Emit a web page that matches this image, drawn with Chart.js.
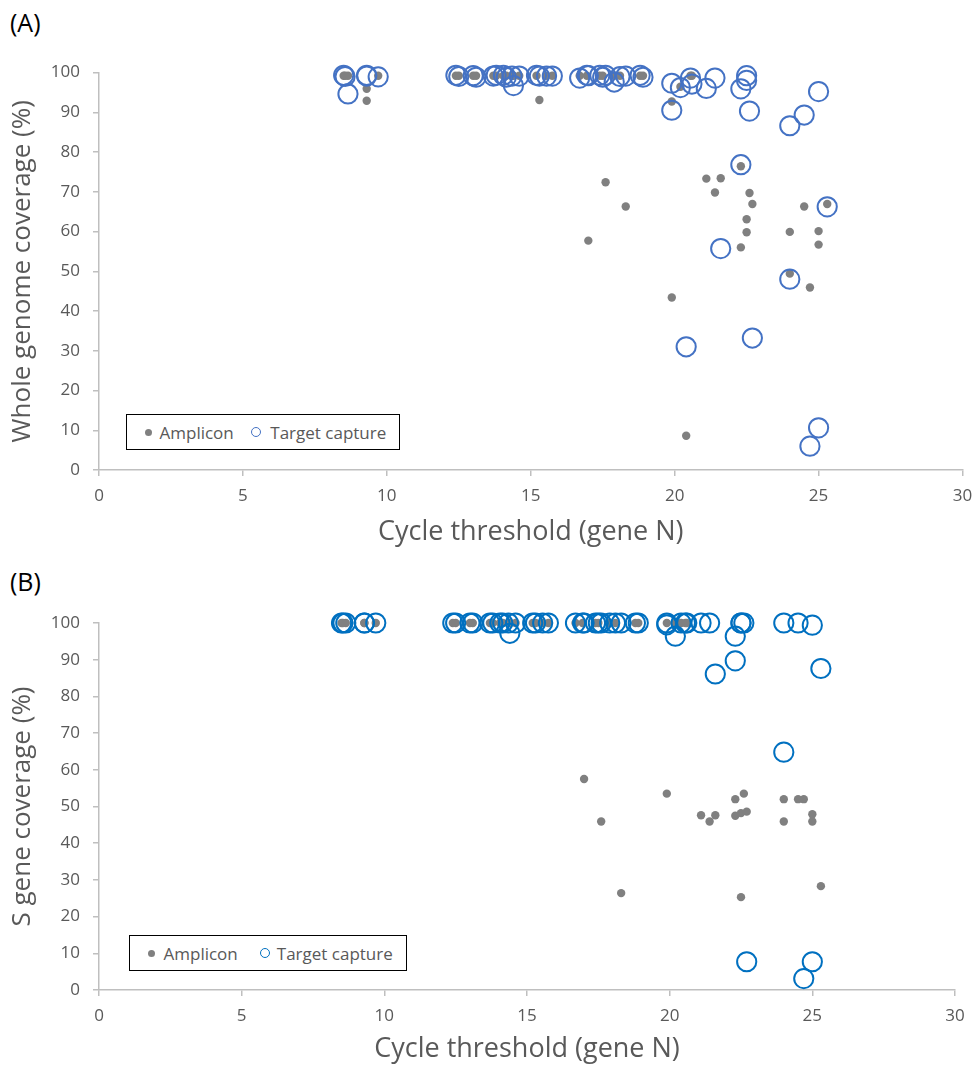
<!DOCTYPE html>
<html>
<head>
<meta charset="utf-8">
<title>Coverage vs cycle threshold</title>
<script src="https://cdn.jsdelivr.net/npm/chart.js"></script>
<style>
  body { margin: 0; background: #fff; font-family: 'Open Sans', sans-serif; }
  #page { position: relative; width: 975px; height: 1069px; overflow: hidden; }
  .panel-label { position: absolute; left: 10px; font-size: 25px; line-height: 1; color: #000; }
  canvas { position: absolute; left: 0; }
  .legend {
    position: absolute; box-sizing: border-box; border: 1.5px solid #000; background: #fff;
    display: flex; align-items: center; font-size: 17px; line-height: 1; color: #595959;
  }
  .legend .marker { box-sizing: border-box; border-radius: 50%; flex: none; }
</style>
</head>
<body>
<div id="page">
  <div class="panel-label" style="top:10px">(A)</div>
  <canvas id="chartA" width="975" height="560" style="top:0"></canvas>
  <div class="legend" id="legendA" style="left:126px; top:414px; width:274px; height:36px"></div>

  <div class="panel-label" style="top:569px">(B)</div>
  <canvas id="chartB" width="975" height="509" style="top:560px"></canvas>
  <div class="legend" id="legendB" style="left:129px; top:935px; width:278px; height:36px"></div>
</div>

<script>
// Cycle threshold (gene N) for each sample, shared by both panels
const ctValues = [
  8.5, 8.55, 8.65, 9.3, 9.3, 9.7, 12.4, 12.5, 13.0, 13.1,
  13.7, 13.8, 14.05, 14.15, 14.35, 14.4, 14.6, 15.2, 15.3, 15.55,
  15.75, 16.7, 16.95, 17.0, 17.4, 17.5, 17.6, 17.9, 18.1, 18.3,
  18.8, 18.9,
  19.9, 19.9, 20.2, 20.4, 20.55, 20.6, 21.1, 21.4, 21.6, 22.3,
  22.3, 22.5, 22.5, 22.6, 22.7, 24.0, 24.0, 24.5, 24.7, 25.0,
  25.0, 25.3
];

// (A) whole genome coverage (%)
const wholeAmplicon = [
  99.2, 99.2, 99.2, 95.9, 92.9, 99.2, 99.2, 99.2, 99.2, 99.2,
  99.2, 99.2, 99.2, 99.2, 99.2, 99.2, 99.2, 99.2, 93.1, 99.2,
  99.2, 99.2, 99.2, 57.7, 99.2, 99.2, 72.4, 99.2, 99.2, 66.3,
  99.2, 99.2,
  92.7, 43.4, 96.4, 8.6, 99.2, 99.2, 73.3, 69.8, 73.4, 76.4,
  56.0, 63.1, 59.8, 69.7, 66.9, 59.9, 49.4, 66.3, 45.9, 60.1,
  56.7, 66.9
];
const wholeCapture = [
  99.3, 99.0, 94.6, 99.3, 99.1, 98.9, 99.3, 99.0, 99.2, 98.8,
  99.1, 99.3, 99.3, 98.8, 99.1, 96.7, 99.1, 99.3, 99.1, 99.1,
  99.1, 98.6, 99.3, 99.2, 99.3, 98.8, 99.3, 97.6, 99.0, 99.1,
  99.3, 98.8,
  97.3, 90.5, 96.2, 31.0, 98.6, 97.1, 96.0, 98.6, 55.7, 76.8,
  95.9, 99.2, 98.0, 90.3, 33.2, 86.6, 48.0, 89.3, 6.0, 95.2,
  10.6, 66.2
];

// (B) S gene coverage (%)
const sGeneAmplicon = [
  100, 100, 100, 100, 100, 100, 100, 100, 100, 100,
  100, 100, 100, 100, 100, 100, 100, 100, 100, 100,
  100, 100, 100, 57.5, 100, 100, 45.9, 100, 100, 26.4,
  100, 100,
  100, 53.5, 100, 100, 100, 100, 47.6, 45.9, 47.6, 52.0,
  47.5, 48.2, 25.3, 53.5, 48.6, 52.0, 45.9, 52.0, 52.0, 47.9,
  45.9, 28.3
];
const sGeneCapture = [
  100, 100, 100, 100, 100, 100, 100, 100, 100, 100,
  100, 100, 100, 100, 100, 97.2, 100, 100, 100, 100,
  100, 100, 100, 100, 100, 100, 100, 100, 100, 100,
  100, 100,
  100, 99.5, 96.4, 100, 100, 100, 100, 100, 86.1, 89.7,
  96.4, 100, 100, 100, 7.7, 100, 64.8, 100, 3.1, 99.4,
  7.7, 87.6
];

const xTicks = { min: 0, max: 30, step: 5 };
const yTicks = { min: 0, max: 100, step: 10 };

Chart.defaults.font.family = "'Open Sans', sans-serif";
Chart.defaults.color = '#595959';

const AXIS_GREY = '#bfbfbf';
const TEXT_GREY = '#595959';

function toPoints(ys) {
  return ctValues.map((x, i) => ({ x: x, y: ys[i] }));
}

function axis(range, title, fit) {
  return {
    type: 'linear',
    min: range.min,
    max: range.max,
    grid: { drawOnChartArea: false, tickLength: 6, lineWidth: 1.5, color: AXIS_GREY, tickColor: AXIS_GREY },
    border: { color: AXIS_GREY, width: 1.5 },
    ticks: { stepSize: range.step, color: TEXT_GREY, font: { size: 17 }, padding: fit.tickPad },
    title: { display: true, text: title, color: TEXT_GREY, font: { size: fit.titleSize }, padding: fit.titlePad },
    afterFit: fit.size
  };
}

function drawPanel(canvasId, legendId, p) {
  const chart = new Chart(document.getElementById(canvasId), {
    type: 'scatter',
    data: {
      datasets: [
        {
          label: 'Amplicon',
          data: toPoints(p.amplicon),
          pointRadius: 4.2,
          pointBorderWidth: 0,
          backgroundColor: '#808080',
          borderColor: '#808080',
          order: 1,
          clip: false
        },
        {
          label: 'Target capture',
          data: toPoints(p.capture),
          pointRadius: 9.6,
          pointBorderWidth: 2,
          backgroundColor: 'rgba(0,0,0,0)',
          borderColor: p.captureColor,
          order: 0,
          clip: false
        }
      ]
    },
    options: {
      responsive: false,
      animation: false,
      events: [],
      layout: { padding: p.padding },
      scales: {
        x: axis(xTicks, 'Cycle threshold (gene N)', {
          tickPad: 10, titleSize: 27, titlePad: { top: 0, bottom: p.xTitleBottom },
          // fixed height, and let the layout padding alone decide the right edge
          size: s => { s.height = p.xHeight; s.paddingLeft = 0; s.paddingRight = 0; }
        }),
        y: axis(yTicks, p.yTitle, {
          tickPad: 13, titleSize: 26, titlePad: { top: 7, bottom: 0 },
          size: s => { s.width = 99; s.paddingTop = 0; s.paddingBottom = 0; }
        })
      },
      plugins: { legend: { display: false }, tooltip: { enabled: false } }
    }
  });

  // legend box drawn as html, one entry per dataset
  const box = document.getElementById(legendId);
  chart.data.datasets.forEach((ds, i) => {
    const lg = p.legend[i];
    const marker = document.createElement('span');
    marker.className = 'marker';
    marker.style.width = marker.style.height = lg.size + 'px';
    marker.style.marginLeft = lg.gap + 'px';
    if (ds.pointBorderWidth > 0) {
      marker.style.border = '1.6px solid ' + ds.borderColor;
    } else {
      marker.style.background = ds.backgroundColor;
    }
    const text = document.createElement('span');
    text.textContent = ds.label;
    text.style.marginLeft = lg.textGap + 'px';
    box.appendChild(marker);
    box.appendChild(text);
  });
  return chart;
}

drawPanel('chartA', 'legendA', {
  amplicon: wholeAmplicon,
  capture: wholeCapture,
  captureColor: '#4472c4',
  yTitle: 'Whole genome coverage (%)',
  padding: { top: 72.5, right: 12.5, bottom: 0, left: 0 },
  xHeight: 90,
  xTitleBottom: 11,
  legend: [
    { size: 7, gap: 18, textGap: 7.5 },
    { size: 10, gap: 17.5, textGap: 9 }
  ]
});

drawPanel('chartB', 'legendB', {
  amplicon: sGeneAmplicon,
  capture: sGeneCapture,
  captureColor: '#0070c0',
  yTitle: 'S gene coverage (%)',
  padding: { top: 63, right: 20, bottom: 0, left: 0 },
  xHeight: 79,
  xTitleBottom: 3,
  legend: [
    { size: 7, gap: 17.5, textGap: 9 },
    { size: 10, gap: 22, textGap: 7 }
  ]
});
</script>
</body>
</html>
